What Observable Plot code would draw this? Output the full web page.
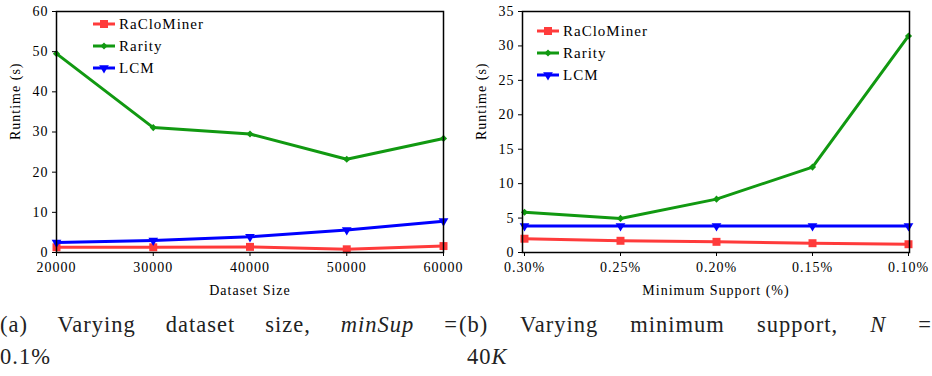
<!DOCTYPE html>
<html>
<head>
<meta charset="utf-8">
<script src="https://cdn.jsdelivr.net/npm/d3@7"></script>
<script src="https://cdn.jsdelivr.net/npm/@observablehq/plot@0.6"></script>
<style>
  html, body { margin: 0; padding: 0; background: white; }
  #wrap { position: relative; width: 932px; height: 376px; overflow: hidden; background: white; }
  .panel { position: absolute; top: 0; width: 466px; height: 300px; }
  .legend { position: absolute; font-family: 'Liberation Serif', 'Times New Roman', Times, serif; font-size: 15px; letter-spacing: 1px; color: #000; }
  .legend .row { position: absolute; left: 0; height: 20px; display: flex; align-items: center; white-space: nowrap; }
  .legend svg { display: block; margin-right: 4px; }
  .cap { position: absolute; font-family: 'Liberation Serif', 'Times New Roman', Times, serif; font-size: 22.5px; letter-spacing: 1px; color: #222; line-height: 32px; }
  .cap .l1 { text-align: justify; text-align-last: justify; white-space: nowrap; }
  .cap i { font-style: italic; }
  svg text { font-family: 'Liberation Serif', 'Times New Roman', Times, serif; letter-spacing: 1px; }
</style>
</head>
<body>
<div id="wrap">
  <div id="pa" class="panel" style="left:0"></div>
  <div id="pb" class="panel" style="left:466px"></div>
  <div class="cap" style="left:0; top:309px; width:458px;">
    <div class="l1">(a) Varying dataset size, <i>minSup</i> =</div>
    <div>0.1%</div>
  </div>
  <div class="cap" style="left:459px; top:309px; width:473px;">
    <div class="l1">(b) Varying minimum support, <i>N</i> =</div>
    <div style="padding-left:8px">40<i>K</i></div>
  </div>
</div>
<script>
// ---- data ----
const seriesNames = ["RaCloMiner", "Rarity", "LCM"];
const seriesColors = ["#ff3b3b", "#119911", "#0000ff"];

const sizes = [20000, 30000, 40000, 50000, 60000];
const sizeRaCloMiner = [1.3, 1.3, 1.4, 0.8, 1.6];
const sizeRarity = [49.5, 31.1, 29.5, 23.2, 28.4];
const sizeLCM = [2.5, 3.0, 3.9, 5.6, 7.8];
const sizeYTicks = [0, 10, 20, 30, 40, 50, 60];

const supports = ["0.30%", "0.25%", "0.20%", "0.15%", "0.10%"];
const supRaCloMiner = [2.0, 1.7, 1.55, 1.35, 1.2];
const supRarity = [5.85, 4.95, 7.75, 12.4, 31.45];
const supLCM = [3.85, 3.85, 3.85, 3.85, 3.85];
const supYTicks = [0, 5, 10, 15, 20, 25, 30, 35];

const FONT = "'Liberation Serif', 'Times New Roman', Times, serif";

// marker settings per series
const markers = [
  {symbol: "square", r: 4.5, rotate: 0},
  {symbol: "diamond2", r: 3.2, rotate: 0},
  {symbol: "triangle", r: 3.6, rotate: 180}
];

function toRows(xs, ys) {
  const rows = [];
  ys.forEach((vals, s) => vals.forEach((v, i) => rows.push({x: xs[i], y: v, s: seriesNames[s]})));
  return rows;
}

function makeChart(rows, xOpts, yDomain, yTicks, xLabel, xTickFormat) {
  const marks = [];
  seriesNames.forEach((name, s) => {
    const d = rows.filter(r => r.s === name);
    marks.push(Plot.line(d, {x: "x", y: "y", stroke: seriesColors[s], strokeWidth: 3}));
    marks.push(Plot.dot(d, {x: "x", y: "y", fill: seriesColors[s], stroke: "none",
      symbol: markers[s].symbol, r: markers[s].r, rotate: markers[s].rotate}));
  });
  marks.push(Plot.frame({stroke: "black", strokeWidth: 1.5}));
  marks.push(Plot.axisY({ticks: yTicks, tickSize: 4, tickPadding: 4, label: null, fontSize: 14, tickFormat: d => String(d)}));
  marks.push(Plot.axisX({ticks: xOpts.ticks, tickSize: 4, tickPadding: 6, label: null, fontSize: 14, tickFormat: xTickFormat}));
  marks.push(Plot.text(["Runtime (s)"], {frameAnchor: "left", rotate: -90, dx: -41, dy: 8, fontSize: 14, fill: "black", lineAnchor: "middle"}));
  marks.push(Plot.text([xLabel], {frameAnchor: "bottom", dy: 38, fontSize: 14, fill: "black", lineAnchor: "middle"}));
  return Plot.plot({
    width: 466, height: 300,
    marginLeft: 56, marginRight: 23, marginTop: 11, marginBottom: 48,
    style: {fontFamily: FONT, fontSize: "14px", color: "black", background: "white", overflow: "visible"},
    x: xOpts.scale,
    y: {domain: yDomain},
    marks
  });
}

const chartA = makeChart(
  toRows(sizes, [sizeRaCloMiner, sizeRarity, sizeLCM]),
  {scale: {type: "linear", domain: [sizes[0], sizes[sizes.length - 1]]}, ticks: sizes},
  [0, 60], sizeYTicks, "Dataset Size", d => String(d)
);
const chartB = makeChart(
  toRows(supports, [supRaCloMiner, supRarity, supLCM]),
  {scale: {type: "point", domain: supports, padding: 0}, ticks: supports},
  [0, 35], supYTicks, "Minimum Support (%)", d => d
);
document.getElementById("pa").appendChild(chartA);
document.getElementById("pb").appendChild(chartB);

// ---- legends (inside the plot frames) ----
function legend(container, left, top) {
  const lg = document.createElement("div");
  lg.className = "legend";
  lg.style.left = left + "px";
  lg.style.top = top + "px";
  seriesNames.forEach((name, s) => {
    const row = document.createElement("div");
    row.className = "row";
    row.style.top = (s * 22) + "px";
    const svg = d3.create("svg").attr("width", 22).attr("height", 20);
    svg.append("line").attr("x1", 0).attr("x2", 22).attr("y1", 10).attr("y2", 10)
      .attr("stroke", seriesColors[s]).attr("stroke-width", 3);
    const area = Math.PI * markers[s].r * markers[s].r;
    const sym = {square: d3.symbolSquare, diamond2: d3.symbolDiamond2, triangle: d3.symbolTriangle}[markers[s].symbol];
    svg.append("path").attr("d", d3.symbol(sym, area)())
      .attr("transform", `translate(11,10) rotate(${markers[s].rotate})`)
      .attr("fill", seriesColors[s]);
    row.appendChild(svg.node());
    const t = document.createElement("span");
    t.textContent = name;
    row.appendChild(t);
    lg.appendChild(row);
  });
  container.appendChild(lg);
}
legend(document.getElementById("pa"), 93, 14);
legend(document.getElementById("pb"), 71, 21);
</script>
</body>
</html>
